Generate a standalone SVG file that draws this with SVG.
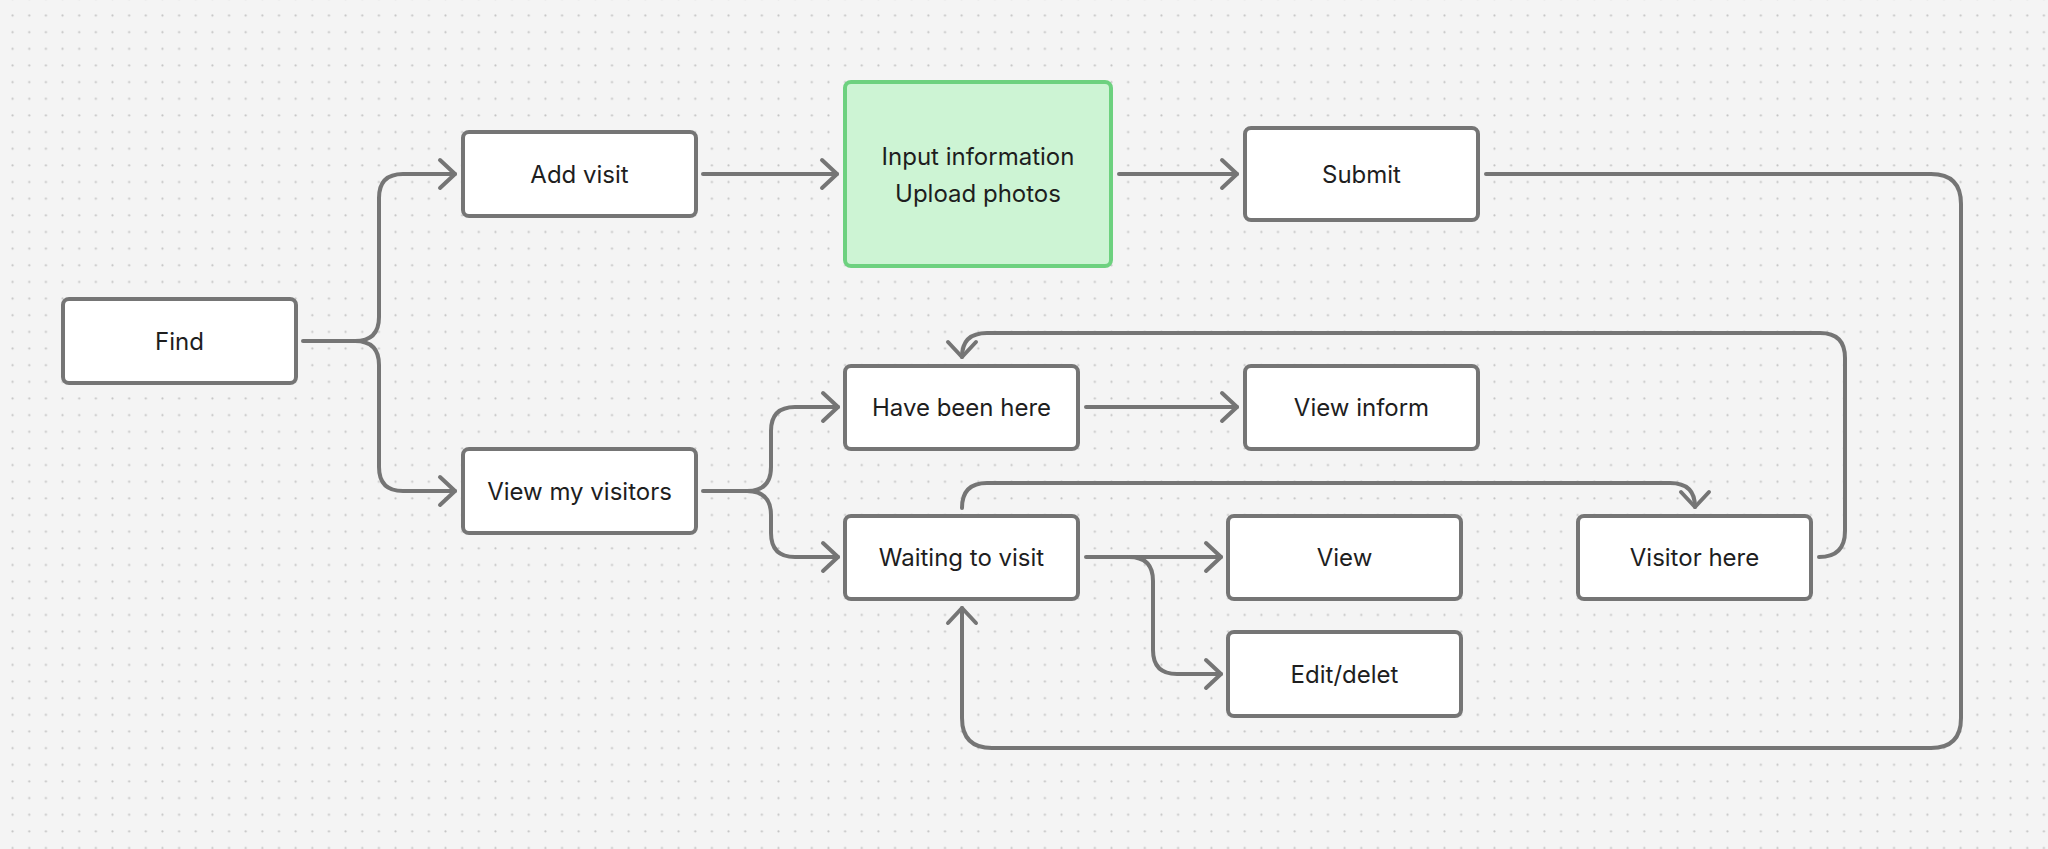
<svg xmlns="http://www.w3.org/2000/svg" width="2048" height="849" viewBox="0 0 2048 849">
<defs>
<pattern id="dots" x="4.3" y="7.3" width="16.65" height="16.65" patternUnits="userSpaceOnUse">
<circle cx="8.3" cy="8.3" r="1.1" fill="#c4c4c4"/>
</pattern>
<marker id="arr" markerUnits="userSpaceOnUse" markerWidth="40" markerHeight="40" viewBox="-20 -20 40 40" refX="0" refY="0" orient="auto">
<path d="M-15,-14 L0,0 L-15,14" fill="none" stroke="#757575" stroke-width="4" stroke-linecap="round" stroke-linejoin="round"/>
</marker>
<style>
.box{fill:#ffffff;stroke:#757575;stroke-width:4}
.green{fill:#cdf4d4;stroke:#6dd17f;stroke-width:4}
.lbl{font-family:Inter,"Liberation Sans",sans-serif;font-size:24px;fill:#1e1e1e;text-anchor:middle;dominant-baseline:central}
.con{fill:none;stroke:#757575;stroke-width:4;stroke-linecap:round;stroke-linejoin:round}
.arrow{marker-end:url(#arr)}
</style>
</defs>
<rect width="2048" height="849" fill="#f4f4f4"/>
<rect width="2048" height="849" fill="url(#dots)"/>
<g id="connectors">
<path class="con arrow" d="M303,341 H355 Q379,341 379,317 V198 Q379,174 403,174 H455"/>
<path class="con arrow" d="M355,341 Q379,341 379,365 V467 Q379,491 403,491 H455"/>
<path class="con arrow" d="M703,174 H837"/>
<path class="con arrow" d="M1119,174 H1237"/>
<path class="con arrow" d="M1486,174 H1931 Q1961,174 1961,204 V718 Q1961,748 1931,748 H992 Q962,748 962,718 V608"/>
<path class="con arrow" d="M703,491 H747 Q771,491 771,467 V431 Q771,407 795,407 H838"/>
<path class="con arrow" d="M747,491 Q771,491 771,515 V533 Q771,557 795,557 H838"/>
<path class="con arrow" d="M1086,407 H1237"/>
<path class="con arrow" d="M1086,557 H1221"/>
<path class="con arrow" d="M1129,557 Q1153,557 1153,581 V650 Q1153,674 1177,674 H1221"/>
<path class="con arrow" d="M962,508 Q962,483 987,483 H1670 Q1695,483 1695,507"/>
<path class="con arrow" d="M1819,557 Q1845,557 1845,531 V358 Q1845,333 1820,333 H987 Q962,333 962,357"/>
</g>
<g id="find"><rect class="box" x="63" y="299" width="233" height="84" rx="6"/><text class="lbl" x="179.5" y="341">Find</text></g>
<g id="add-visit"><rect class="box" x="463" y="132" width="233" height="84" rx="6"/><text class="lbl" x="579.5" y="174">Add visit</text></g>
<g id="input-info"><rect class="green" x="845" y="82" width="266" height="184" rx="6"/><text class="lbl" x="978" y="156">Input information</text><text class="lbl" x="978" y="193">Upload photos</text></g>
<g id="submit"><rect class="box" x="1245" y="128" width="233" height="92" rx="6"/><text class="lbl" x="1361.5" y="174">Submit</text></g>
<g id="have-been-here"><rect class="box" x="845" y="366" width="233" height="83" rx="6"/><text class="lbl" x="961.5" y="407">Have been here</text></g>
<g id="view-inform"><rect class="box" x="1245" y="366" width="233" height="83" rx="6"/><text class="lbl" x="1361.5" y="407">View inform</text></g>
<g id="view-my-visitors"><rect class="box" x="463" y="449" width="233" height="84" rx="6"/><text class="lbl" x="579.5" y="491">View my visitors</text></g>
<g id="waiting-to-visit"><rect class="box" x="845" y="516" width="233" height="83" rx="6"/><text class="lbl" x="961.5" y="557">Waiting to visit</text></g>
<g id="view"><rect class="box" x="1228" y="516" width="233" height="83" rx="6"/><text class="lbl" x="1344.5" y="557">View</text></g>
<g id="visitor-here"><rect class="box" x="1578" y="516" width="233" height="83" rx="6"/><text class="lbl" x="1694.5" y="557">Visitor here</text></g>
<g id="edit-delet"><rect class="box" x="1228" y="632" width="233" height="84" rx="6"/><text class="lbl" x="1344.5" y="674">Edit/delet</text></g>
</svg>
